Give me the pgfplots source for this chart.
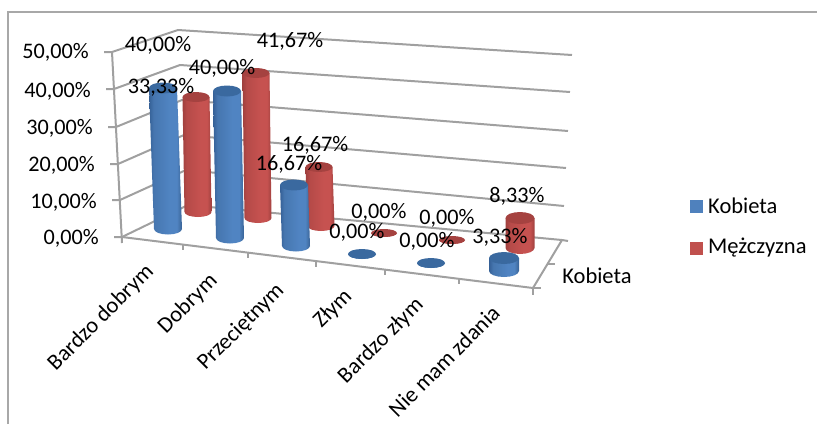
\documentclass[border=0pt]{standalone}
\usepackage{fontspec}
\setmainfont{Carlito}
\usepackage{pgfplots}
\usepackage{pgfplotstable}
\pgfplotsset{compat=1.18}

\definecolor{gridgray}{HTML}{A0A0A0}
\definecolor{framegray}{HTML}{A8A8A8}
\definecolor{blueTop}{HTML}{3A699F}
\definecolor{blueKey}{HTML}{4F81BD}
\definecolor{redTop}{HTML}{A54240}
\definecolor{redKey}{HTML}{C0504D}
\definecolor{bA}{HTML}{356096}
\definecolor{bB}{HTML}{4676AF}
\definecolor{bC}{HTML}{5084C2}
\definecolor{bD}{HTML}{4270A6}
\definecolor{rA}{HTML}{A0403E}
\definecolor{rB}{HTML}{B54A48}
\definecolor{rC}{HTML}{C65250}
\definecolor{rD}{HTML}{AE4745}

% Horizontal light across a cylinder; the path spans 25bp to 75bp of the shading
\pgfdeclarehorizontalshading{cylblue}{100bp}{
  color(0bp)=(bA); color(25bp)=(bA); color(32bp)=(bB); color(56bp)=(bC);
  color(67bp)=(bC); color(72bp)=(bD); color(75bp)=(bA); color(100bp)=(bA)}
\pgfdeclarehorizontalshading{cylred}{100bp}{
  color(0bp)=(rA); color(25bp)=(rA); color(32bp)=(rB); color(56bp)=(rC);
  color(67bp)=(rC); color(72bp)=(rD); color(75bp)=(rA); color(100bp)=(rA)}

% Series: base centre (bx,by), top centre x (tx), pixels per percent (k),
% ellipse radii (rx,ry), value in percent, label position (lx,ly)
\pgfplotstableread{
bx  by  tx  k     rx  ry  value lx  ly
168 229 163 3.525 14  5.5 40.00 158 45
230 238 227 3.675 14  5.5 40.00 222 68
296 246 294 3.66  14  5.5 16.67 289 164
362 254 362 3.6   14  5   0.00  357 232
431 263 431 3.6   14  5   0.00  427 241
504 271 504 3.9   15  6   3.33  500 237
}\kobieta
\pgfplotstableread{
bx  by  tx  k     rx   ry  value lx  ly
198 212 196 3.45  13.5 5   33.33 161 87
258 218 256 3.48  13.5 5   41.67 290 41
321 226 319 3.54  13.5 5   16.67 315 145
384 233 384 3.6   13   4   0.00  379 212
452 240 452 3.6   13   4   0.00  447 218
520 248 520 3.6   14.5 6   8.33  517 196
}\mezczyzna

% Outline of a cylinder side: u,v in ellipse radii, t=1 at the top, t=0 at the base
\pgfplotstableread{
u v t
-1 0 1
1 0 1
1 0 0
0.92 0.38 0
0.71 0.71 0
0.38 0.92 0
0 1 0
-0.38 0.92 0
-0.71 0.71 0
-0.92 0.38 0
-1 0 0
}\sideshape
% Outline of the top face
\pgfplotstableread{
u v
1 0
0.92 0.38
0.71 0.71
0.38 0.92
0 1
-0.38 0.92
-0.71 0.71
-0.92 0.38
-1 0
-0.92 -0.38
-0.71 -0.71
-0.38 -0.92
0 -1
0.38 -0.92
0.71 -0.71
0.92 -0.38
}\topshape

\newcommand{\cylinders}[3]{%
  \pgfplotsinvokeforeach{0,...,5}{%
    \pgfplotstablegetelem{##1}{bx}\of{#1}\let\bx\pgfplotsretval
    \pgfplotstablegetelem{##1}{by}\of{#1}\let\by\pgfplotsretval
    \pgfplotstablegetelem{##1}{tx}\of{#1}\let\tx\pgfplotsretval
    \pgfplotstablegetelem{##1}{k}\of{#1}\let\kk\pgfplotsretval
    \pgfplotstablegetelem{##1}{rx}\of{#1}\let\rx\pgfplotsretval
    \pgfplotstablegetelem{##1}{ry}\of{#1}\let\ry\pgfplotsretval
    \pgfplotstablegetelem{##1}{value}\of{#1}\let\val\pgfplotsretval
    \addplot[draw=none, shade, shading=#2] table[
      x expr={\tx*\thisrow{t}+\bx*(1-\thisrow{t})+\rx*\thisrow{u}},
      y expr={\by-\kk*\val*\thisrow{t}+\ry*\thisrow{v}}] {\sideshape} -- cycle;
    \addplot[draw=none, fill=#3] table[
      x expr={\tx+\rx*\thisrow{u}},
      y expr={\by-\kk*\val+\ry*\thisrow{v}}] {\topshape} -- cycle;
  }%
}

\begin{document}
\begin{tikzpicture}[x=1pt,y=1pt]
\begin{axis}[
  at={(0,0)}, anchor=south west,
  x=1pt, y=1pt,
  xmin=0, xmax=817, ymin=0, ymax=424,
  y dir=reverse,
  scale only axis,
  hide axis,
  clip=false,
  /pgf/number format/assume math mode=true,
  /pgf/number format/use comma,
  percent label/.style={
    only marks, mark=none,
    point meta=explicit,
    nodes near coords={\pgfmathprintnumber[fixed,fixed zerofill,precision=2]{\pgfplotspointmeta}\%},
    every node near coord/.append style={anchor=center, inner sep=0pt, text=black, font=\fontsize{22.2}{24}\selectfont},
  },
  wall/.style={draw=gridgray, line width=2pt, no marks},
]

% Chart frame
\addplot[draw=framegray, line width=2pt, no marks] coordinates {(8,424) (8,12) (817,12)};

% Gridlines running round the side and back walls
\addplot[wall] coordinates {(104,52) (112,52) (178,30) (572,55)};
\addplot[wall] coordinates {(106,89) (114,89) (180,65) (570,92)};
\addplot[wall] coordinates {(108,127) (116,127) (182,100) (568,131)};
\addplot[wall] coordinates {(110,164) (118,164) (184,135) (566,168)};
\addplot[wall] coordinates {(112,200) (120,200) (186,170) (564,206)};
\addplot[wall] coordinates {(114,237) (122,237) (188,205) (562,240) (568,241)};

% Value axis and floor edges
\addplot[wall] coordinates {(112,52) (122,243)};
\addplot[wall] coordinates {(122,237) (533,288) (562,240)};
\addplot[wall] coordinates {(183,245) (183,250)};
\addplot[wall] coordinates {(248,253) (248,258)};
\addplot[wall] coordinates {(316,261) (316,267)};
\addplot[wall] coordinates {(385,270) (385,275)};
\addplot[wall] coordinates {(459,279) (459,284)};
\addplot[wall] coordinates {(533,288) (533,295)};
\addplot[wall] coordinates {(533,288) (541,288)};
\addplot[wall] coordinates {(547,264) (555,264)};

% Back series first, front series over it
\cylinders{\mezczyzna}{cylred}{redTop}
\cylinders{\kobieta}{cylblue}{blueTop}

% Data labels
\addplot[percent label] table[x=lx,y=ly,meta=value] {\kobieta};
\addplot[percent label] table[x=lx,y=ly,meta=value] {\mezczyzna};

% Value axis labels
\addplot[percent label, every node near coord/.append style={anchor=east}] table[x=x,y=y,meta=v] {
x y v
89 52 50
91 91 40
93 128 30
95 165 20
97 202 10
99 238 0
};

% Category labels
\begin{scope}[every node/.style={font=\fontsize{22.5}{24}\selectfont, rotate=45, anchor=center, inner sep=0pt}]
\node at (axis cs:101,318) {Bardzo dobrym};
\node at (axis cs:188,304) {Dobrym};
\node at (axis cs:241,327) {Przeciętnym};
\node at (axis cs:333,309) {Złym};
\node at (axis cs:381,341) {Bardzo złym};
\node at (axis cs:444,361) {Nie mam zdania};
\end{scope}

% Depth axis label
\node[font=\fontsize{22.5}{24}\selectfont, inner sep=0pt] at (axis cs:597,276) {Kobieta};

% Legend
\addplot[draw=none, fill=blueKey] coordinates {(690,200) (703,200) (703,213) (690,213)} -- cycle;
\addplot[draw=none, fill=redKey] coordinates {(690,242) (703,242) (703,255) (690,255)} -- cycle;
\node[font=\fontsize{22.5}{24}\selectfont, inner sep=0pt, anchor=west] at (axis cs:708,206) {Kobieta};
\node[font=\fontsize{22.5}{24}\selectfont, inner sep=0pt, anchor=west] at (axis cs:708,248) {Mężczyzna};
\end{axis}
\pgfresetboundingbox
\path[use as bounding box] (0,0) rectangle (817pt,424pt);
\end{tikzpicture}
\end{document}
